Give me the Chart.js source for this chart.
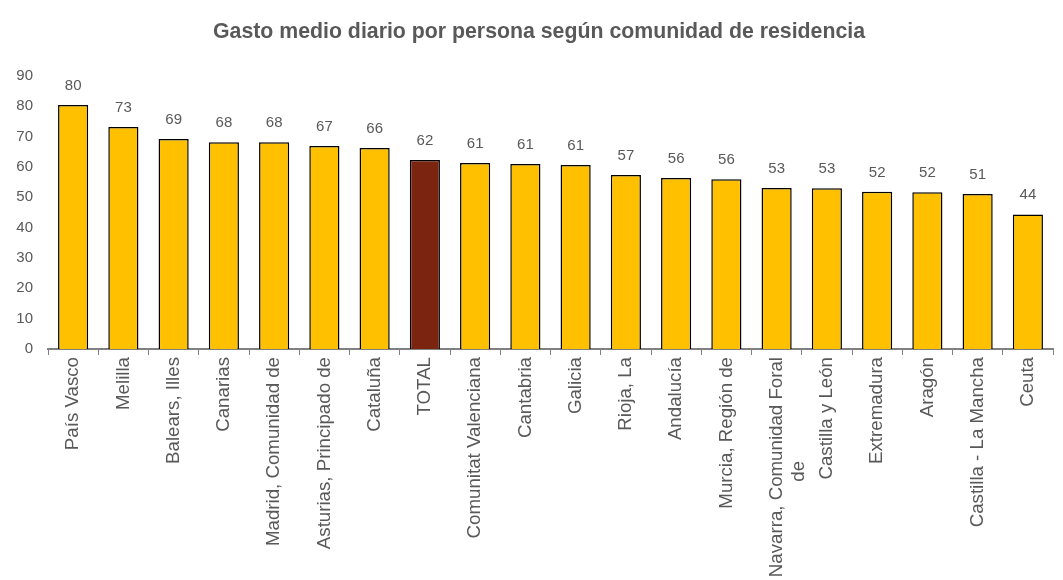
<!DOCTYPE html>
<html>
<head>
<meta charset="utf-8">
<script src="https://cdn.jsdelivr.net/npm/chart.js@4.4.0/dist/chart.umd.min.js"></script>
<style>
html,body{margin:0;padding:0;background:#fff;}
#wrap{width:1063px;height:580px;}
</style>
</head>
<body>
<div id="wrap"><canvas id="c" width="1063" height="580"></canvas></div>
<script>
const NB = "\u00A0";
const categories = ["País Vasco","Melilla","Balears, Illes","Canarias","Madrid, Comunidad de","Asturias, Principado de","Cataluña","TOTAL","Comunitat Valenciana","Cantabria","Galicia","Rioja, La","Andalucía","Murcia, Región de",["Navarra, Comunidad Foral","de" + NB.repeat(20)],"Castilla y León","Extremadura","Aragón","Castilla - La Mancha","Ceuta"];
const values = [80.4, 73.2, 69.2, 68.2, 68.2, 66.9, 66.3, 62.3, 61.3, 61.0, 60.7, 57.4, 56.4, 56.0, 53.1, 53.0, 51.8, 51.7, 51.1, 44.3];
const yTicks = [0,10,20,30,40,50,60,70,80,90];
const titleText = "Gasto medio diario por persona según comunidad de residencia";

const barColors = categories.map(c => c === "TOTAL" ? "#7B2410" : "#FFC000");
const FONT = "'Liberation Sans', Arial, sans-serif";
const GRAY = "#595959";

const valueLabels = {
  id: 'valueLabels',
  afterDatasetsDraw(chart) {
    const ctx = chart.ctx;
    const meta = chart.getDatasetMeta(0);
    ctx.save();
    ctx.font = "15px " + FONT;
    ctx.fillStyle = GRAY;
    ctx.textAlign = 'center';
    ctx.textBaseline = 'bottom';
    meta.data.forEach((bar, i) => {
      ctx.fillText(String(Math.round(values[i])), bar.x, bar.y - 12);
    });
    ctx.restore();
  }
};

const chartTitle = {
  id: 'chartTitle',
  afterDraw(chart) {
    const ctx = chart.ctx;
    ctx.save();
    ctx.font = "bold 21.3px " + FONT;
    ctx.fillStyle = GRAY;
    ctx.textAlign = 'center';
    ctx.textBaseline = 'middle';
    ctx.fillText(titleText, 539, 32);
    ctx.restore();
  }
};

new Chart(document.getElementById('c'), {
  type: 'bar',
  data: {
    labels: categories,
    datasets: [{
      data: values,
      backgroundColor: barColors,
      borderColor: '#000000',
      borderWidth: 1.5,
      barPercentage: 0.6,
      categoryPercentage: 1.0
    }]
  },
  options: {
    responsive: false,
    animation: false,
    devicePixelRatio: 1,
    layout: { padding: { left: 0, right: 10, top: 76, bottom: 0 } },
    plugins: {
      legend: { display: false },
      tooltip: { enabled: false },
      title: { display: false }
    },
    scales: {
      x: {
        grid: { display: true, drawOnChartArea: false, drawTicks: true, tickLength: 6, color: '#808080', offset: true },
        border: { display: true, color: '#808080', width: 2 },
        ticks: {
          color: GRAY,
          font: { family: FONT, size: 18.7 },
          minRotation: 90,
          maxRotation: 90,
          autoSkip: false,
          padding: 2
        },
        afterFit(scale) { scale.height = 231; }
      },
      y: {
        min: 0,
        max: 90,
        afterBuildTicks(scale) { scale.ticks = yTicks.map(v => ({ value: v })); },
        grid: { display: false, drawTicks: false },
        border: { display: false },
        ticks: {
          color: GRAY,
          font: { family: FONT, size: 15 },
          padding: 15
        },
        afterFit(scale) { scale.width = 48; }
      }
    }
  },
  plugins: [valueLabels, chartTitle]
});
</script>
</body>
</html>
